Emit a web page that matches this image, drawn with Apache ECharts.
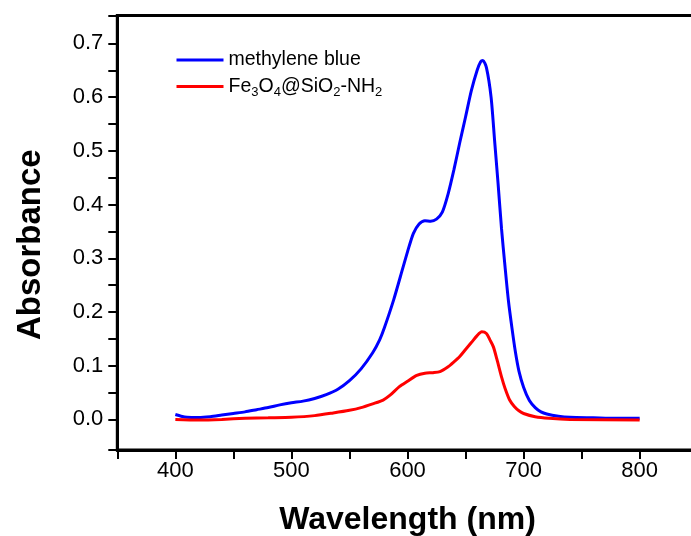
<!DOCTYPE html>
<html>
<head>
<meta charset="utf-8">
<script src="https://cdn.jsdelivr.net/npm/echarts@6/dist/echarts.min.js"></script>
<style>
  html, body { margin: 0; padding: 0; background: #fff; }
  #chart { width: 691px; height: 536px; }
</style>
</head>
<body>
<div id="chart"></div>
<script>
// UV-Vis absorbance spectra: [wavelength (nm), absorbance]
const methyleneBlue = [
  [400, 0.009], [405, 0.006], [410, 0.004], [420, 0.0035], [430, 0.005],
  [440, 0.008], [450, 0.011], [460, 0.014], [470, 0.018], [480, 0.022],
  [490, 0.027], [500, 0.031], [510, 0.034], [520, 0.039], [530, 0.046],
  [540, 0.056], [550, 0.072], [560, 0.094], [570, 0.124], [576, 0.148],
  [580, 0.170], [588, 0.222], [596, 0.282], [600, 0.312], [605, 0.346],
  [610, 0.364], [615, 0.370], [620, 0.369], [625, 0.373], [630, 0.386],
  [635, 0.420], [640, 0.465], [645, 0.515], [650, 0.563], [655, 0.612],
  [660, 0.650], [663, 0.666], [665, 0.668], [668, 0.655], [672, 0.600],
  [675, 0.520], [678, 0.440], [681, 0.355], [684, 0.285], [687, 0.220],
  [690, 0.170], [693, 0.125], [696, 0.090], [700, 0.060], [705, 0.035],
  [710, 0.022], [715, 0.014], [720, 0.010], [730, 0.006], [740, 0.004],
  [760, 0.003], [780, 0.002], [800, 0.002]
];

const fe3o4SiO2NH2 = [
  [400, 0.000], [420, -0.001], [440, 0.000], [460, 0.002], [480, 0.003],
  [500, 0.004], [520, 0.007], [536, 0.012], [550, 0.017], [560, 0.022],
  [570, 0.029], [579, 0.036], [585, 0.045], [593, 0.061], [600, 0.071],
  [608, 0.082], [615, 0.086], [622, 0.087], [628, 0.089], [635, 0.098],
  [640, 0.107], [645, 0.117], [650, 0.130], [655, 0.143], [660, 0.156],
  [664, 0.163], [668, 0.160], [671, 0.148], [674, 0.135], [677, 0.112],
  [681, 0.079], [684, 0.058], [688, 0.036], [692, 0.024], [696, 0.016],
  [700, 0.011], [710, 0.005], [722, 0.002], [740, 0.000], [800, -0.001]
];

const seriesNames = ['methylene blue', 'Fe3O4@SiO2-NH2'];

// Axis ranges, ticks and labels
const xMin = 350, xMax = 850;
const yMin = -0.057, yMax = 0.752;
const xTickValues = [350, 400, 450, 500, 550, 600, 650, 700, 750, 800, 850];
const xLabelValues = [400, 500, 600, 700, 800];
const yTickValues = [-0.057, 0, 0.05, 0.1, 0.15, 0.2, 0.25, 0.3, 0.35, 0.4, 0.45, 0.5, 0.55, 0.6, 0.65, 0.7, 0.752];
const yLabelValues = [0, 0.1, 0.2, 0.3, 0.4, 0.5, 0.6, 0.7];

const FONT = 'Liberation Sans, Arial, sans-serif';

const chart = echarts.init(document.getElementById('chart'), null, { renderer: 'canvas' });

chart.setOption({
  animation: false,
  backgroundColor: '#fff',
  grid: {
    left: 117.3,
    top: 15.5,
    width: 580.4,
    bottom: 86,
    show: true,
    borderColor: '#000',
    borderWidth: 3,
    containLabel: false,
    outerBoundsMode: 'none'
  },
  legend: {
    orient: 'vertical',
    left: 176.5,
    top: 50,
    padding: 0,
    icon: 'rect',
    itemWidth: 47,
    itemHeight: 3,
    itemGap: 4,
    data: seriesNames,
    textStyle: {
      fontFamily: FONT,
      fontSize: 19.5,
      lineHeight: 20,
      color: '#000',
      rich: {
        s: { fontFamily: FONT, fontSize: 13, lineHeight: 20, color: '#000', padding: [12, 0, 0, 0] }
      }
    },
    formatter: function (name) {
      if (name === 'Fe3O4@SiO2-NH2') {
        return 'Fe{s|3}O{s|4}@SiO{s|2}-NH{s|2}';
      }
      return name;
    }
  },
  xAxis: {
    type: 'value',
    min: xMin,
    max: xMax,
    name: 'Wavelength (nm)',
    nameLocation: 'middle',
    nameGap: 54,
    nameTextStyle: { fontFamily: FONT, fontSize: 32, fontWeight: 'bold', color: '#000' },
    axisLine: { show: true, onZero: false, lineStyle: { color: '#000', width: 3 } },
    axisTick: { show: true, inside: false, length: 9, customValues: xTickValues, lineStyle: { color: '#000', width: 2 } },
    axisLabel: { show: true, margin: 10, customValues: xLabelValues, fontFamily: FONT, fontSize: 22, color: '#000' },
    splitLine: { show: false }
  },
  yAxis: {
    type: 'value',
    min: yMin,
    max: yMax,
    name: 'Absorbance',
    nameLocation: 'middle',
    nameGap: 70,
    nameTextStyle: { fontFamily: FONT, fontSize: 33, fontWeight: 'bold', color: '#000', padding: [0, 24, 0, 0] },
    axisLine: { show: true, onZero: false, lineStyle: { color: '#000', width: 3 } },
    axisTick: { show: true, inside: false, length: 9, customValues: yTickValues, lineStyle: { color: '#000', width: 2 } },
    axisLabel: {
      show: true, margin: 14, customValues: yLabelValues, fontFamily: FONT, fontSize: 22, color: '#000',
      formatter: function (v) { return v.toFixed(1); }
    },
    splitLine: { show: false }
  },
  series: [
    {
      name: seriesNames[0],
      type: 'line',
      data: methyleneBlue,
      symbol: 'none',
      smooth: 0.25,
      lineStyle: { color: '#0000ff', width: 3 },
      itemStyle: { color: '#0000ff' }
    },
    {
      name: seriesNames[1],
      type: 'line',
      data: fe3o4SiO2NH2,
      symbol: 'none',
      smooth: 0.25,
      lineStyle: { color: '#ff0000', width: 3 },
      itemStyle: { color: '#ff0000' }
    }
  ]
});
</script>
</body>
</html>
